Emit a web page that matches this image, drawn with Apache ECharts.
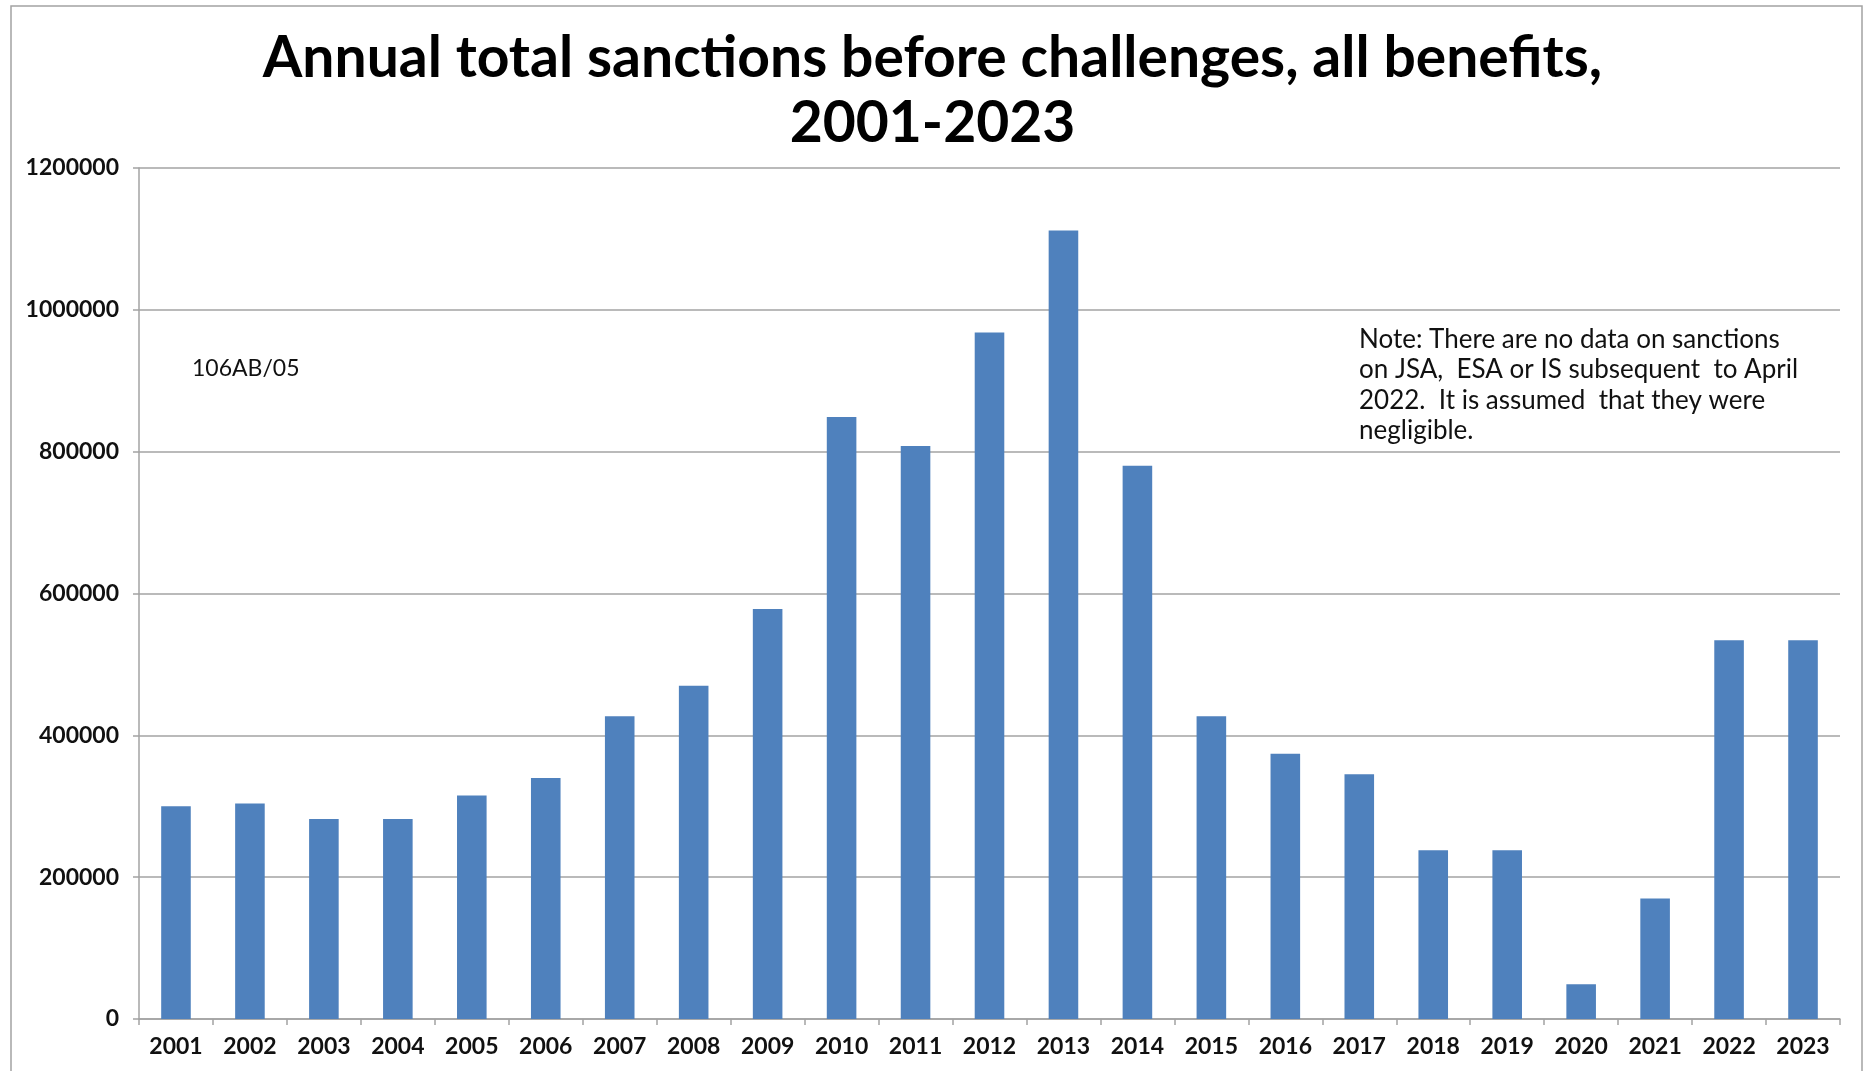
<!DOCTYPE html>
<html>
<head>
<meta charset="utf-8">
<script src="https://cdn.jsdelivr.net/npm/echarts@6/dist/echarts.min.js"></script>
<style>
html,body{margin:0;padding:0;background:#fff;}
#chart{width:1865px;height:1071px;}
</style>
</head>
<body>
<div id="chart"></div>
<script>
var years = ['2001','2002','2003','2004','2005','2006','2007','2008','2009','2010','2011','2012','2013','2014','2015','2016','2017','2018','2019','2020','2021','2022','2023'];
var sanctions = [300000,304000,282000,282000,315000,340000,427000,470000,578000,849000,808000,968000,1112000,780000,427000,374000,345000,238000,238000,49000,170000,534000,534000];
var yTicks = {min:0, max:1200000, interval:200000};
var titleText = 'Annual total sanctions before challenges, all benefits,\n2001-2023';
var codeLabel = '106AB/05';
var noteText = 'Note: There are no data on sanctions\non JSA,  ESA or IS subsequent  to April\n2022.  It is assumed  that they were\nnegligible.';

var chart = echarts.init(document.getElementById('chart'), null, {renderer:'canvas'});
var gray = '#a3a3a3';
chart.setOption({
  backgroundColor:'#ffffff',
  animation:false,
  title:{
    text:titleText,
    left:'center',
    top:21,
    textStyle:{fontFamily:'Lato',fontWeight:'bold',fontSize:57,lineHeight:65,color:'#000'}
  },
  grid:{left:139,top:168,right:25,bottom:52,containLabel:false},
  xAxis:{
    type:'category',
    data:years,
    axisLine:{lineStyle:{color:gray,width:1.5}},
    axisTick:{show:true,length:6,lineStyle:{color:gray,width:1.5}},
    axisLabel:{fontFamily:'Lato',fontWeight:'bold',fontSize:23,color:'#111',margin:16}
  },
  yAxis:{
    type:'value',
    min:yTicks.min,max:yTicks.max,interval:yTicks.interval,
    axisLine:{show:true,lineStyle:{color:gray,width:1.5}},
    axisTick:{show:true,length:6,lineStyle:{color:gray,width:1.5}},
    splitLine:{lineStyle:{color:gray,width:1.5}},
    axisLabel:{fontFamily:'Lato',fontWeight:'bold',fontSize:23,color:'#111',margin:20,
      formatter:function(v){return String(v);}}
  },
  series:[{
    type:'bar',
    data:sanctions,
    barWidth:'40%',
    itemStyle:{color:'#4f81bd'}
  }],
  graphic:[
    {type:'rect',shape:{x:11,y:6,width:1851,height:1075},style:{fill:'none',stroke:gray,lineWidth:1.5},silent:true,z:-1},
    {type:'text',left:192,top:357,style:{text:codeLabel,font:'23px Lato',fill:'#111'}},
    {type:'text',left:1359,top:324,style:{text:noteText,font:'26px Lato',fill:'#111',lineHeight:30.5}}
  ]
});
</script>
</body>
</html>
